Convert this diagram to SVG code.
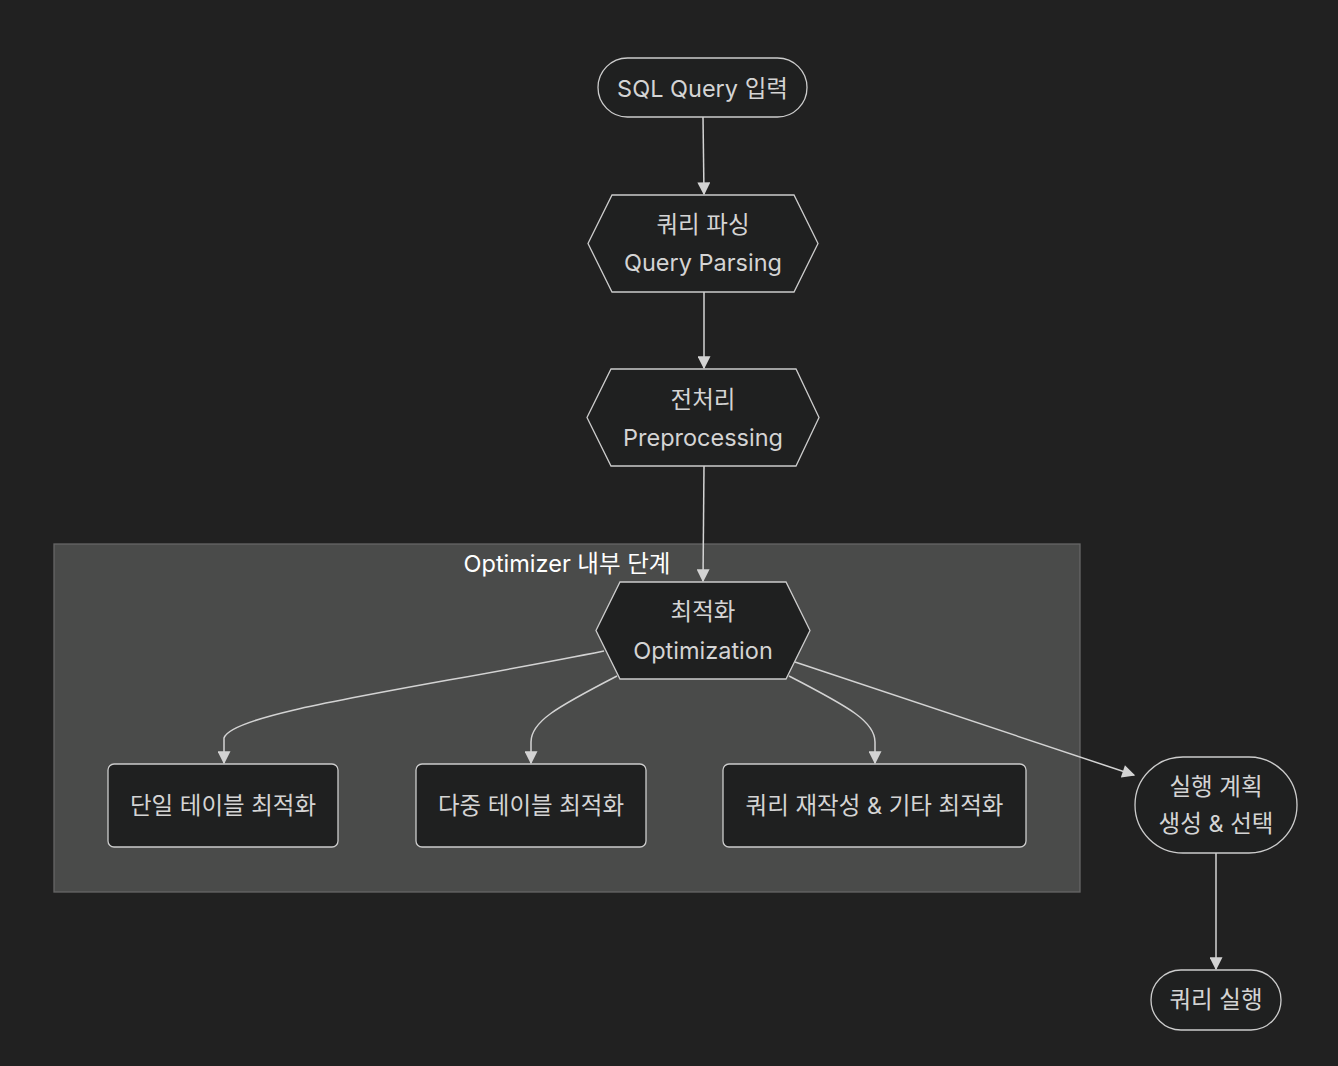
<svg xmlns="http://www.w3.org/2000/svg" width="1338" height="1066" viewBox="0 0 1338 1066">
<defs>
<style>
.node{fill:#1f2020;stroke:#cccccc;stroke-width:1.3}
.t{font-family:Inter,"Noto Sans CJK KR",sans-serif;font-size:23.5px;fill:#d4d4d4;text-anchor:middle;dominant-baseline:central}
.edge{fill:none;stroke:#d3d3d3;stroke-width:1.5}
.cluster{fill:#4a4b4a;stroke:#666666;stroke-width:1.3}
.ct{font-family:Inter,"Noto Sans CJK KR",sans-serif;font-size:23.5px;fill:#ffffff;text-anchor:middle;dominant-baseline:central}
</style>
<marker id="arr" viewBox="0 0 10 10" refX="9" refY="5" markerWidth="14" markerHeight="13" markerUnits="userSpaceOnUse" orient="auto">
<path d="M0,0 L10,5 L0,10 z" fill="#d3d3d3"/>
</marker>
</defs>
<rect width="1338" height="1066" fill="#212121"/>
<g id="cluster-optimizer">
<rect class="cluster" x="54" y="544" width="1026" height="348"/>
<text class="ct" x="567" y="563">Optimizer 내부 단계</text>
</g>
<g id="connectors">
<path class="edge" d="M703,117 L704,194" marker-end="url(#arr)"/>
<path class="edge" d="M704,292 L704,368" marker-end="url(#arr)"/>
<path class="edge" d="M704,466 L703,581" marker-end="url(#arr)"/>
<path class="edge" d="M604,651 C420,688 232,712 224,738 L224,763" marker-end="url(#arr)"/>
<path class="edge" d="M617,676 C555,708 531,722 531,742 L531,763" marker-end="url(#arr)"/>
<path class="edge" d="M789,676 C851,708 875,722 875,742 L875,763" marker-end="url(#arr)"/>
<path class="edge" d="M795,662 L1134,775" marker-end="url(#arr)"/>
<path class="edge" d="M1216,853 L1216,969" marker-end="url(#arr)"/>
</g>
<g id="node-sql">
<rect class="node" x="598" y="58" width="209" height="59" rx="29.5"/>
<text class="t" x="702.5" y="88">SQL Query 입력</text>
</g>
<g id="node-parsing">
<polygon class="node" points="612,195 794,195 818,243.5 794,292 612,292 588,243.5"/>
<text class="t" x="703" y="224">쿼리 파싱</text>
<text class="t" x="703" y="262">Query Parsing</text>
</g>
<g id="node-preprocessing">
<polygon class="node" points="611,369 796,369 819,417.5 796,466 611,466 587,417.5"/>
<text class="t" x="703" y="399">전처리</text>
<text class="t" x="703" y="437">Preprocessing</text>
</g>
<g id="node-optimization">
<polygon class="node" points="620,582 786,582 810,630.5 786,679 620,679 596,630.5"/>
<text class="t" x="703" y="611">최적화</text>
<text class="t" x="703" y="650">Optimization</text>
</g>
<g id="node-single">
<rect class="node" x="108" y="764" width="230" height="83" rx="6"/>
<text class="t" x="223" y="805">단일 테이블 최적화</text>
</g>
<g id="node-multi">
<rect class="node" x="416" y="764" width="230" height="83" rx="6"/>
<text class="t" x="531" y="805">다중 테이블 최적화</text>
</g>
<g id="node-rewrite">
<rect class="node" x="723" y="764" width="303" height="83" rx="6"/>
<text class="t" x="874.5" y="805">쿼리 재작성 &amp; 기타 최적화</text>
</g>
<g id="node-plan">
<rect class="node" x="1135" y="757" width="162" height="96" rx="48"/>
<text class="t" x="1216" y="786">실행 계획</text>
<text class="t" x="1216" y="823">생성 &amp; 선택</text>
</g>
<g id="node-exec">
<rect class="node" x="1151" y="970" width="130" height="60" rx="30"/>
<text class="t" x="1216" y="999">쿼리 실행</text>
</g>
</svg>
